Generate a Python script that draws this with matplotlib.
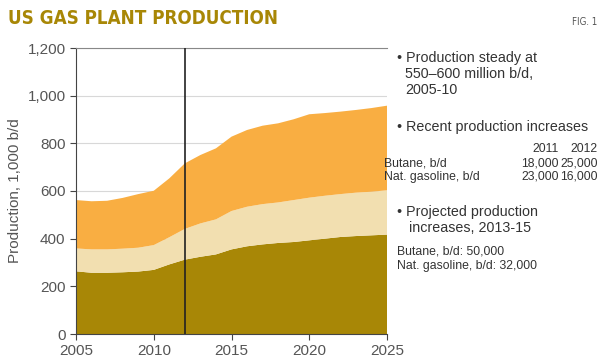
import matplotlib.pyplot as plt
from matplotlib.ticker import FuncFormatter

# Werte (1,000 b/d)
years = list(range(2005, 2026))
bottom_top = [263, 257, 257, 259, 262, 269, 292, 312, 324, 334, 355,
              368, 376, 382, 386, 393, 400, 407, 411, 414, 417]
middle_top = [359, 355, 355, 358, 362, 373, 406, 441, 464, 481, 516,
              534, 545, 552, 562, 572, 580, 587, 593, 597, 603]
total_top = [562, 557, 559, 571, 587, 601, 653, 716, 751, 779, 828,
             856, 874, 884, 901, 922, 927, 933, 940, 948, 958]
marker_year = 2012
y_ticks = [0, 200, 400, 600, 800, 1000, 1200]
x_ticks = [2005, 2010, 2015, 2020, 2025]

layer_dark = bottom_top
layer_light = [m - b for m, b in zip(middle_top, bottom_top)]
layer_orange = [t - m for t, m in zip(total_top, middle_top)]

sans = ['Liberation Sans', 'DejaVu Sans']
grey = '#555555'

fig = plt.figure(figsize=(6, 3.63), dpi=100)
ax = fig.add_axes([76 / 600, 1 - 334 / 363, (387 - 76) / 600, (334 - 48) / 363])

ax.stackplot(years, layer_dark, layer_light, layer_orange,
             colors=['#A88706', '#F2DFB0', '#F9AE42'], linewidth=0, zorder=2)
ax.axvline(marker_year, color='#222222', linewidth=1.2, zorder=3)

ax.set_xlim(2005, 2025)
ax.set_ylim(0, 1200)
ax.set_xticks(x_ticks)
ax.set_yticks(y_ticks)
ax.yaxis.set_major_formatter(FuncFormatter(lambda v, p: f"{int(v):,}"))
ax.grid(axis='y', color='#d8d8d8', linewidth=0.8, zorder=0)
ax.spines['right'].set_visible(False)
ax.spines['top'].set_color('#888888')
ax.spines['left'].set_color('#444444')
ax.spines['bottom'].set_color('#444444')
ax.tick_params(colors='#444444', labelcolor=grey, length=4, width=0.8,
               labelsize=11)
for lab in ax.get_xticklabels() + ax.get_yticklabels():
    lab.set_family(sans)
ax.set_ylabel('Production, 1,000 b/d', fontsize=11, color=grey, family=sans)
ax.yaxis.set_label_coords(-0.175, 0.5)

# Titel
fig.text(8 / 600, 1 - 18 / 363, 'US GAS PLANT PRODUCTION', fontsize=13.5,
         fontweight='bold', fontstretch='condensed', color='#A88706',
         family='DejaVu Sans', va='center')
fig.text(572 / 600, 1 - 22 / 363, 'FIG. 1', fontsize=7, color=grey,
         family='DejaVu Sans', fontstretch='condensed', va='center')

# Anmerkungen rechts
tc = '#333333'
def t(x, y, s, size=10.3, **kw):
    fig.text(x / 600, 1 - y / 363, s, fontsize=size, color=tc, family=sans,
             va='center', **kw)

ts = 8.8
t(397, 58, '\u2022 Production steady at')
t(405, 74, '550\u2013600 million b/d,')
t(405, 90, '2005-10')
t(397, 127, '\u2022 Recent production increases')
t(559, 149, '2011', size=ts, ha='right')
t(598, 149, '2012', size=ts, ha='right')
t(384, 163, 'Butane, b/d', size=ts)
t(559, 163, '18,000', size=ts, ha='right')
t(598, 163, '25,000', size=ts, ha='right')
t(384, 177, 'Nat. gasoline, b/d', size=ts)
t(559, 177, '23,000', size=ts, ha='right')
t(598, 177, '16,000', size=ts, ha='right')
t(397, 212, '\u2022 Projected production')
t(409, 228, 'increases, 2013-15')
t(397, 252, 'Butane, b/d: 50,000', size=ts)
t(397, 266, 'Nat. gasoline, b/d: 32,000', size=ts)

fig.savefig('out.png', dpi=100)
